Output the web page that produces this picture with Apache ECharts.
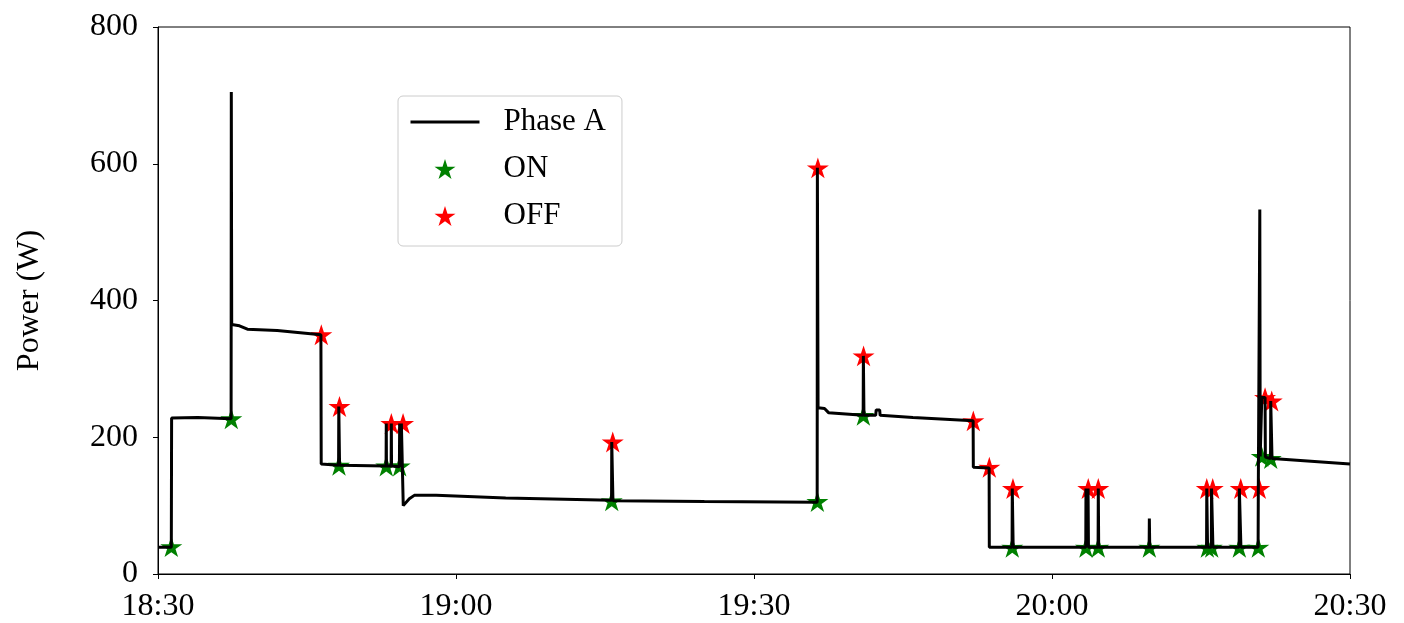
<!DOCTYPE html>
<html>
<head>
<meta charset="utf-8">
<script src="https://cdn.jsdelivr.net/npm/echarts@6/dist/echarts.min.js"></script>
<style>
    html, body { margin: 0; padding: 0; background: #fff; }
    #main { width: 1404px; height: 623px; }
</style>
</head>
<body>
<div id="main"></div>
<script>
'use strict';

// 横轴刻度 (minutes after 18:30)
var tickLabels = ['18:30', '19:00', '19:30', '20:00', '20:30'];

// Phase A 功率曲线
var phaseTime = [0, 1.34, 1.37, 4.0, 7.36, 7.38, 7.42, 8.2, 9.0, 12.0, 16.40, 16.43,
    18.18, 18.20, 18.26, 18.28, 22.96, 22.98, 23.00, 23.47, 23.49, 23.51,
    24.30, 24.33, 24.40, 24.50, 24.67, 24.69, 25.3, 25.8, 28.0, 35.0,
    45.66, 45.68, 45.78, 45.80, 55.0, 66.36, 66.38, 66.43, 66.45, 67.1, 67.5,
    70.99, 71.01, 71.05, 71.07, 72.25, 72.30, 72.65, 72.70, 76.0, 82.06, 82.08,
    83.67, 83.69, 85.98, 86.00, 86.07, 86.09, 93.40, 93.42, 93.50, 93.63, 93.67,
    94.64, 94.66, 94.70, 99.78, 99.80, 99.84, 105.56, 105.58, 105.66, 106.04, 106.06,
    106.18, 106.20, 108.84, 108.86, 109.0, 109.02, 110.75, 110.77, 110.87,
    110.92, 110.96, 111.10, 111.12, 111.45, 111.48, 112.0, 112.02, 112.12, 112.15, 120];
var phaseWatt = [39, 39, 228, 229, 227, 705, 365, 363, 358, 356, 350, 161,
    159, 245, 245, 159, 158, 220, 158, 158, 220, 158,
    157, 220, 157, 220, 220, 100, 110, 115, 115, 111,
    108, 193, 193, 107, 106, 105, 594, 594, 243, 242, 236,
    232, 319, 319, 232, 232, 240, 240, 232, 229, 224, 156,
    155, 39, 39, 125, 125, 39, 39, 125, 39, 125, 39,
    39, 125, 39, 39, 81, 39, 39, 125, 39, 39, 125,
    125, 39, 39, 125, 125, 39, 39, 125, 125,
    533, 172, 172, 258, 258, 171, 169, 253, 253, 169, 161];

// ON 事件
var onTime = [1.34, 7.38, 18.22, 22.98, 24.33, 45.68, 66.38, 71.01, 86.0, 93.42,
    94.66, 99.80, 105.64, 106.08, 108.86, 110.77, 111.11, 112.02];
var onWatt = [40, 227, 159, 158, 158, 107, 106, 232, 39, 39,
    39, 39, 39, 39, 39, 39, 172, 169];

// OFF 事件
var offTime = [16.44, 18.27, 23.49, 24.67, 45.78, 66.43, 71.03, 82.08, 83.69, 86.07,
    93.65, 94.66, 105.58, 106.18, 109.0, 110.87, 111.45, 112.12];
var offWatt = [350, 245, 220, 220, 193, 594, 319, 224, 156, 125,
    125, 125, 125, 125, 125, 125, 258, 253];

var star = 'path://M50 0 L61.17 34.63 L97.55 34.55 L68.07 55.87 L79.39 90.45 L50 69 ' +
    'L20.61 90.45 L31.93 55.87 L2.45 34.55 L38.83 34.63 Z';
var serif = '"Liberation Serif", "DejaVu Serif", serif';

function pairs(xs, ys){
    var out = [];
    for (var i = 0; i < xs.length; i++) {
        out.push([xs[i], ys[i]]);
    }
    return out;
}

var chart = echarts.init(document.getElementById('main'));

var option = {
    animation: false,
    backgroundColor: '#fff',
    grid: {
        left: 158,
        right: 54,
        top: 27,
        bottom: 48,
        show: true,
        borderColor: '#000',
        borderWidth: 1
    },
    legend: {
        left: 398,
        top: 96,
        orient: 'vertical',
        padding: [10, 16, 14, 11],
        itemGap: 15,
        itemWidth: 69,
        itemHeight: 20,
        backgroundColor: '#fff',
        borderColor: '#ccc',
        borderWidth: 1,
        borderRadius: 5,
        textStyle: {
            fontFamily: serif,
            fontSize: 31,
            color: '#000',
            lineHeight: 32,
            padding: [0, 0, 0, 19]
        },
        data: [
            { name: 'Phase A', itemStyle: { opacity: 0 }, lineStyle: { width: 3 } },
            { name: 'ON', icon: star },
            { name: 'OFF', icon: star }
        ]
    },
    xAxis: {
        type: 'value',
        min: 0,
        max: 120,
        interval: 30,
        axisLine: { lineStyle: { color: '#000', width: 1 } },
        axisTick: { show: true, inside: false, length: 5, lineStyle: { color: '#000' } },
        splitLine: { show: false },
        axisLabel: {
            margin: 17,
            fontFamily: serif,
            fontSize: 32,
            color: '#000',
            formatter: function(v){
                return tickLabels[Math.round(v / 30)];
            }
        }
    },
    yAxis: {
        type: 'value',
        min: 0,
        max: 800,
        interval: 200,
        name: 'Power (W)',
        nameLocation: 'middle',
        nameGap: 112,
        nameTextStyle: { fontFamily: serif, fontSize: 32, color: '#000' },
        axisLine: { show: true, lineStyle: { color: '#000', width: 1 } },
        axisTick: { show: true, inside: false, length: 5, lineStyle: { color: '#000' } },
        splitLine: { show: false },
        axisLabel: {
            margin: 20,
            fontFamily: serif,
            fontSize: 32,
            color: '#000'
        }
    },
    series: [
        {
            name: 'Phase A',
            type: 'line',
            symbol: 'none',
            color: '#000',
            lineStyle: { color: '#000', width: 3 },
            data: pairs(phaseTime, phaseWatt)
        },
        {
            name: 'ON',
            type: 'scatter',
            symbol: star,
            symbolSize: 22,
            symbolKeepAspect: true,
            itemStyle: { color: '#008000', opacity: 1 },
            data: pairs(onTime, onWatt)
        },
        {
            name: 'OFF',
            type: 'scatter',
            symbol: star,
            symbolSize: 22,
            symbolKeepAspect: true,
            itemStyle: { color: '#ff0000', opacity: 1 },
            data: pairs(offTime, offWatt)
        }
    ]
};

chart.setOption(option);
</script>
</body>
</html>
